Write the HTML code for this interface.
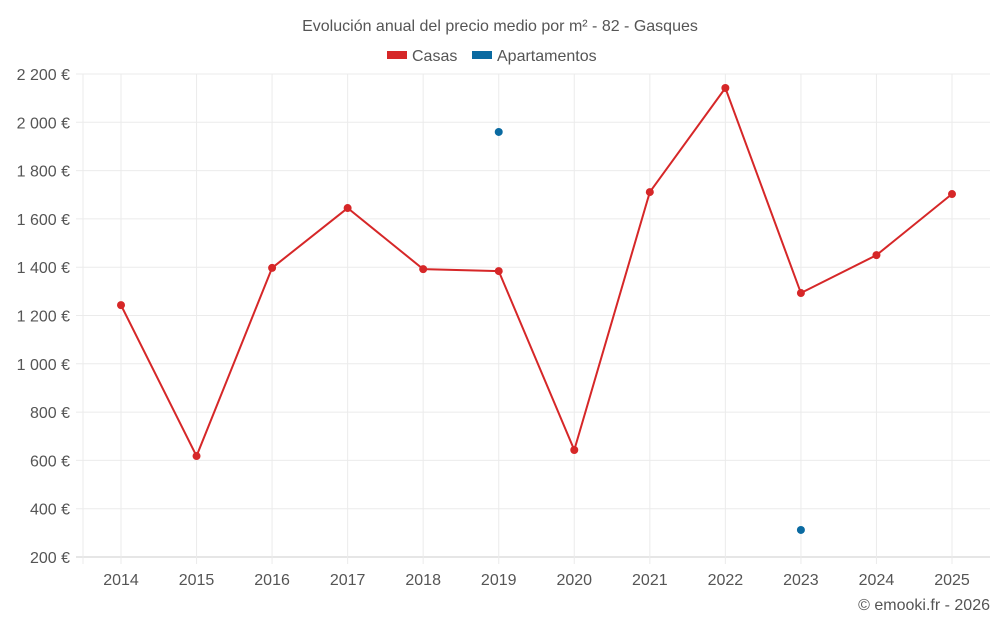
<!DOCTYPE html>
<html><head><meta charset="utf-8"><style>
body{margin:0;background:#fff;}
svg text{font-family:"Liberation Sans",sans-serif;fill:#555;}
</style></head><body>
<svg width="1000" height="625" id="c">
<text x="500" y="31" text-anchor="middle" font-size="16">Evolución anual del precio medio por m² - 82 - Gasques</text>
<g>
<g><rect x="387" y="51" width="20" height="8" fill="#d62728"/><text x="412" y="61" font-size="16">Casas</text></g>
<g><rect x="472" y="51" width="20" height="8" fill="#0a6aa1"/><text x="497" y="61" font-size="16">Apartamentos</text></g>
</g>
<g id="grid"></g><g id="axes"></g><g id="series"></g>
<text x="990" y="610" text-anchor="end" font-size="16">© emooki.fr - 2026</text>
</svg>
<script>
const years=[2014,2015,2016,2017,2018,2019,2020,2021,2022,2023,2024,2025];
const casas=[1243,618,1397,1645,1392,1384,643,1711,2142,1293,1450,1703];
const apartamentos=[null,null,null,null,null,1960,null,null,null,312,null,null];
const yTicks=[200,400,600,800,1000,1200,1400,1600,1800,2000,2200];
const ns="http://www.w3.org/2000/svg";
const L=83,R=990,T=74,B=557;
const x=i=>121+i*(952-121)/(years.length-1);
const y=v=>B-(v-200)/2000*(B-T);
function mk(t,a,p){const e=document.createElementNS(ns,t);for(const k in a)e.setAttribute(k,a[k]);document.getElementById(p).appendChild(e);return e;}
yTicks.forEach(v=>{
 const l=mk('line',{x1:76,x2:R,y1:y(v),y2:y(v),stroke:v==200?'#ccc':'#ebebeb'},'grid');
 
 
 const t=mk('text',{x:70,y:y(v)+6,'text-anchor':'end','font-size':16},'axes');
 t.textContent=v.toLocaleString('fr-FR').replace(/\s/g,' ')+' €';
 
 
});
const vl=mk('line',{x1:L,x2:L,y1:T,y2:B+7,stroke:'#ebebeb'},'grid');


years.forEach((yr,i)=>{
 const l=mk('line',{x1:x(i),x2:x(i),y1:T,y2:B+7,stroke:'#ebebeb'},'grid');
 
 
 const t=mk('text',{x:x(i),y:585,'text-anchor':'middle','font-size':16},'axes');
 t.textContent=yr;
 
 
});
const p=mk('polyline',{points:casas.map((v,i)=>x(i)+','+y(v)).join(' '),fill:'none',stroke:'#d62728','stroke-width':2},'series');


casas.forEach((v,i)=>{
 const c=mk('circle',{cx:x(i),cy:y(v),r:4,fill:'#d62728'},'series');
 
 
});
apartamentos.forEach((v,i)=>{
 if(v==null)return;
 const c=mk('circle',{cx:x(i),cy:y(v),r:4,fill:'#0a6aa1'},'series');
 
 
});
</script>
</body></html>
